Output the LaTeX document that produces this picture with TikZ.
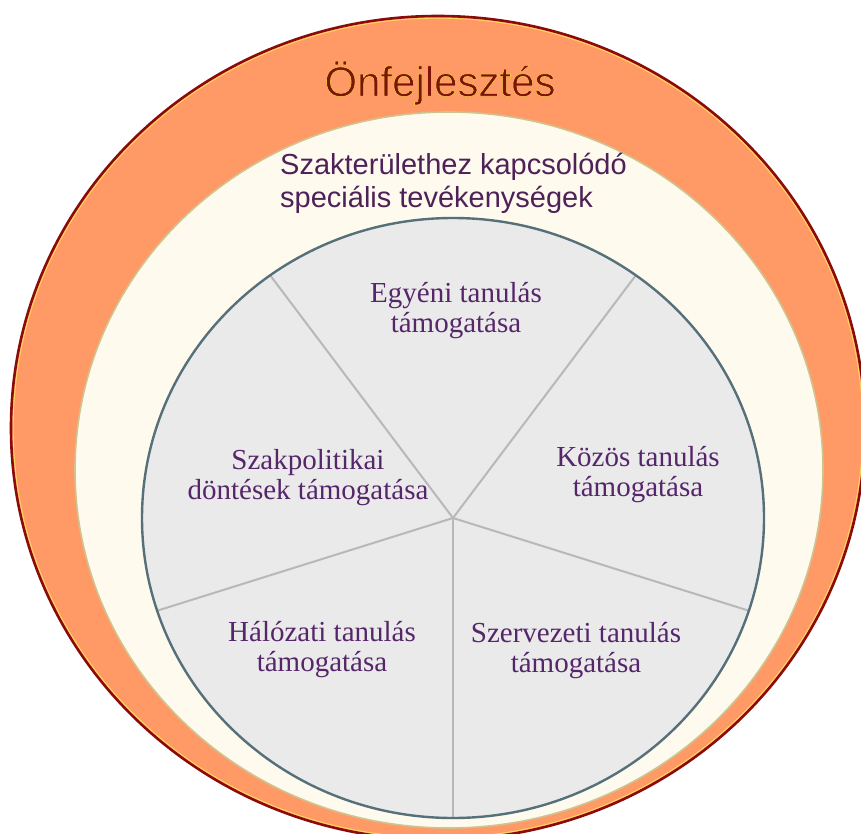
\documentclass[tikz,border=0pt]{standalone}
\usepackage{fontspec}
\setmainfont{Liberation Serif}
\newfontfamily\arialf{Liberation Sans}
\definecolor{orangefill}{HTML}{FF9966}
\definecolor{outeredge}{HTML}{8B0A0A}
\definecolor{glowy}{HTML}{FFD95A}
\definecolor{creamfill}{HTML}{FFFAEE}
\definecolor{creamedge}{HTML}{CFC48F}
\definecolor{grayfill}{HTML}{EAEAEA}
\definecolor{grayedge}{HTML}{56707A}
\definecolor{spokecol}{HTML}{B8B8B8}
\definecolor{titlered}{HTML}{7A1508}
\definecolor{purpletext}{HTML}{4E2158}
\definecolor{innertext}{HTML}{56266A}
\newcommand{\glowtext}[1]{\special{pdf:literal direct 2 Tr 0.55 w 0.98 0.78 0.3 RG}#1\special{pdf:literal direct 0 Tr}}
\begin{document}
\begin{tikzpicture}[x=1pt,y=-1pt,
  innerlabel/.style={text=innertext, align=center, inner sep=0pt,
    font=\fontsize{29}{30}\selectfont},
  titlestyle/.style={inner sep=0pt, font=\arialf\fontsize{42}{46}\selectfont},
  spokeline/.style={draw=spokecol, line width=2pt}]
\useasboundingbox (0,0) rectangle (861,834);
\clip (0,0) rectangle (861,834);
\fill[white] (0,0) rectangle (861,834);
% outer ring
\path[fill=orangefill, draw=outeredge, line width=2.6pt] (438,428) ellipse [x radius=427pt, y radius=412pt];
\path[draw=glowy, line width=0.9pt] (438,428) ellipse [x radius=424.8pt, y radius=409.8pt];
% cream ring
\path[fill=creamfill, draw=creamedge, line width=1.6pt] (449,470) ellipse [x radius=374pt, y radius=358pt];
% gray disc
\path[fill=grayfill] (453,518) ellipse [x radius=311pt, y radius=300pt];
\coordinate (hub) at (453,518);
\coordinate (s1) at (270.2,275.3);
\coordinate (s2) at (635.8,275.3);
\coordinate (s3) at (157.2,610.7);
\coordinate (s4) at (748.8,610.7);
\coordinate (s5) at (453,818);
\foreach \s in {s1,s2,s3,s4,s5} \draw[spokeline] (hub) -- (\s);
\path[draw=grayedge, line width=2.4pt] (453,518) ellipse [x radius=311pt, y radius=300pt];
% title
\node[titlestyle, text=titlered] (title) at (440,83) {\glowtext{Önfejlesztés}};
% cream ring text
\node[text=purpletext, align=left, inner sep=0pt, anchor=base west,
  font=\arialf\fontsize{29}{33}\selectfont] (spec) at (280,208)
  {Szakterülethez kapcsolódó\\speciális tevékenységek};
% sector labels
\node[innerlabel] (egyeni) at (456,311) {Egyéni tanulás\\támogatása};
\node[innerlabel] (kozos) at (638,475) {Közös tanulás\\támogatása};
\node[innerlabel] (szakpol) at (308,478) {Szakpolitikai\\döntések támogatása};
\node[innerlabel] (halozati) at (322,650) {Hálózati tanulás\\támogatása};
\node[innerlabel] (szerv) at (576,651) {Szervezeti tanulás\\támogatása};
\end{tikzpicture}
\end{document}
